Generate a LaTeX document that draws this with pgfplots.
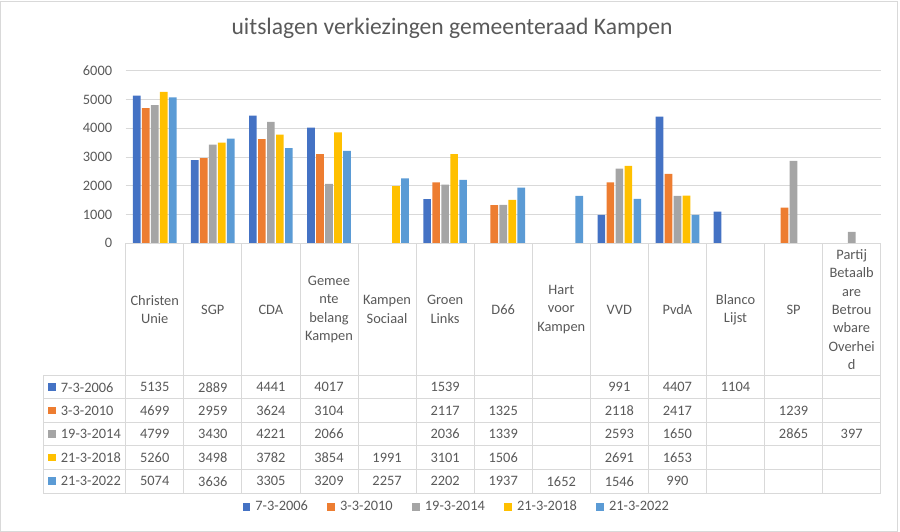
\documentclass[border=0pt]{standalone}
\usepackage{fontspec}
\setmainfont{Carlito}
\usepackage{pgfplots}
\usepackage{pgfplotstable}
\pgfplotsset{compat=1.18}
\definecolor{c1}{HTML}{4472C4}
\definecolor{c2}{HTML}{ED7D31}
\definecolor{c3}{HTML}{A5A5A5}
\definecolor{c4}{HTML}{FFC000}
\definecolor{c5}{HTML}{5B9BD5}
\definecolor{txt}{HTML}{595959}
\definecolor{gridc}{HTML}{D9D9D9}

\pgfplotstableread{
x s1 s2 s3 s4 s5
0 5135 4699 4799 5260 5074
1 2889 2959 3430 3498 3636
2 4441 3624 4221 3782 3305
3 4017 3104 2066 3854 3209
4 nan nan nan 1991 2257
5 1539 2117 2036 3101 2202
6 nan 1325 1339 1506 1937
7 nan nan nan nan 1652
8 991 2118 2593 2691 1546
9 4407 2417 1650 1653 990
10 1104 nan nan nan nan
11 nan 1239 2865 nan nan
12 nan nan 397 nan nan
}\datatable
\def\nanstr{nan}
\newcommand\fs{\fontsize{14.4bp}{18.3bp}\selectfont}

\begin{document}
\begin{tikzpicture}
\path[use as bounding box] (0,0) rectangle (900bp,532bp);
\draw[gridc, line width=0.75bp] (0.5bp,0.5bp) rectangle (897.7bp,531bp);
\node[text=txt, font=\fontsize{23.6bp}{28bp}\selectfont] at (452bp,504bp) {uitslagen verkiezingen gemeenteraad Kampen};
\begin{axis}[
  at={(125.7bp,288.7bp)}, anchor=south west,
  scale only axis, width=755bp, height=172.6bp,
  xmin=-0.5, xmax=12.5, ymin=0, ymax=6000,
  ytick={0,1000,...,6000}, xtick=\empty,
  ymajorgrids, grid style={color=gridc, line width=0.75bp},
  axis line style={draw=none},
  major tick length=0pt,
  tick label style={font=\fs, text=txt},
  yticklabel style={anchor=east, inner sep=0pt, xshift=-13.4bp},
  /pgf/number format/assume math mode=true,
  /pgf/number format/1000 sep={},
  ybar=1.3bp, bar width=7.7bp,
  legend columns=5,
  legend style={at={(0.4386,-1.526)}, anchor=center, draw=none, fill=none, font=\fs, text=txt,
    /tikz/every odd column/.append style={column sep=3bp},
    /tikz/every even column/.append style={column sep=17.5bp}},
  legend image code/.code={\fill[#1] (0bp,-3.85bp) rectangle (7.7bp,3.85bp);},
]
\addplot[fill=c1, draw=none] table[x=x, y=s1] {\datatable};
\addplot[fill=c2, draw=none] table[x=x, y=s2] {\datatable};
\addplot[fill=c3, draw=none] table[x=x, y=s3] {\datatable};
\addplot[fill=c4, draw=none] table[x=x, y=s4] {\datatable};
\addplot[fill=c5, draw=none] table[x=x, y=s5] {\datatable};
\legend{7-3-2006, 3-3-2010, 19-3-2014, 21-3-2018, 21-3-2022}
\end{axis}
% data table grid
\begin{scope}[draw=gridc, line width=0.75bp]
\draw (125.7bp,288.7bp) -- (880.7bp,288.7bp);
\foreach \yy in {156.3,133.3,109.7,86.3,62.7,38.7}
  \draw (43.3bp,\yy bp) -- (880.7bp,\yy bp);
\foreach \k in {0,...,13}
  \draw ({125.7bp+\k*58.077bp},288.7bp) -- ({125.7bp+\k*58.077bp},38.7bp);
\draw (43.3bp,156.3bp) -- (43.3bp,38.7bp);
\end{scope}
% category labels
\foreach \k/\lab in {0/{Christen\\Unie},1/SGP,2/CDA,3/{Gemee\\nte\\belang\\Kampen},4/{Kampen\\Sociaal},5/{Groen\\Links},6/D66,7/{Hart\\voor\\Kampen},8/VVD,9/PvdA,10/{Blanco\\Lijst},11/SP,12/{Partij\\Betaalb\\are\\Betrou\\wbare\\Overhei\\d}}
  \node[text=txt, font=\fs, align=center, inner sep=0pt] at ({125.7bp+(\k+0.5)*58.077bp},222.5bp) {\lab};
% row labels
\foreach \lab/\col/\yy in {7-3-2006/c1/144.8,3-3-2010/c2/121.5,19-3-2014/c3/98.0,21-3-2018/c4/74.5,21-3-2022/c5/50.7}{
  \fill[\col] (48.3bp,\yy bp-3.85bp) rectangle (56bp,\yy bp+3.85bp);
  \node[anchor=west, inner sep=0pt, text=txt, font=\fs] at (60.7bp,\yy bp) {\lab};
}
% values
\foreach \r in {0,...,12}{
  \foreach \c/\yy in {1/144.8,2/121.5,3/98.0,4/74.5,5/50.7}{
    \pgfplotstablegetelem{\r}{s\c}\of\datatable
    \edef\val{\pgfplotsretval}
    \ifx\val\nanstr\else
      \node[text=txt, font=\fs, inner sep=0pt] at ({125.7bp+(\r+0.5)*58.077bp},\yy bp) {\val};
    \fi
  }
}
\end{tikzpicture}
\end{document}
